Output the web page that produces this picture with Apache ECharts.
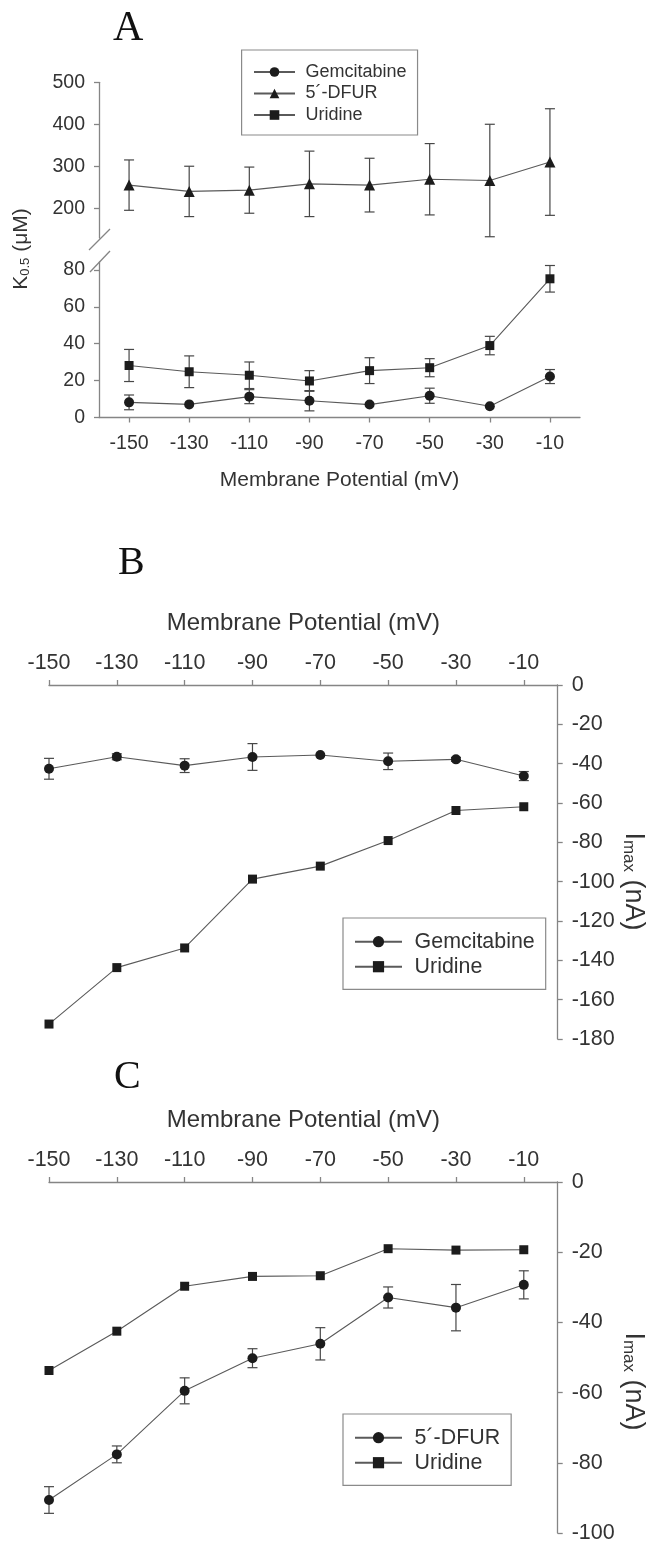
<!DOCTYPE html>
<html>
<head>
<meta charset="utf-8">
<script src="https://cdn.jsdelivr.net/npm/echarts@6/dist/echarts.min.js"></script>
<style>html,body{margin:0;padding:0;background:#fff;}#c{width:647px;height:1544px;}</style>
</head>
<body>
<div id="c"></div>
<script>
// ---------- data ----------
const potentials = [-150, -130, -110, -90, -70, -50, -30, -10];
const potentialTicks = [-150, -130, -110, -90, -70, -50, -30, -10];

// Panel A: K0.5 (uM)
const aGem     = [8.2, 7.1, 11.3, 9.1, 7.0, 11.8, 6.1, 22.2];
const aGemErr  = [4.0, 0, 3.8, 5.5, 0, 4.1, 0, 3.8];
const aDfur    = [255, 240, 243, 258, 255, 269, 266, 310];
const aDfurErr = [60, 60, 55, 78, 64, 85, 134, 127];
const aUri     = [28.2, 24.8, 22.9, 19.8, 25.4, 27.0, 39.0, 75.2];
const aUriErr  = [8.7, 8.6, 7.2, 5.6, 7.0, 4.9, 5.0, 7.2];
const aUpperTicks = [200, 300, 400, 500];
const aLowerTicks = [0, 20, 40, 60, 80];

// Panel B: Imax (nA)
const bGem    = [-42.6, -36.5, -41.0, -36.6, -35.6, -38.8, -37.8, -46.3];
const bGemErr = [5.3, 1.5, 3.5, 6.8, 0, 4.2, 1.0, 2.3];
const bUri    = [-172.4, -143.7, -133.7, -98.7, -92.1, -79.1, -63.8, -61.9];

// Panel C: Imax (nA)
const cDfur    = [-90.6, -77.6, -59.5, -50.2, -46.1, -32.9, -35.8, -29.3];
const cDfurErr = [3.8, 2.4, 3.7, 2.7, 4.6, 3.0, 6.6, 4.0];
const cUri     = [-53.7, -42.5, -29.7, -26.9, -26.7, -19.0, -19.4, -19.3];

// ---------- styling helpers ----------
const FONT = 'Liberation Sans, Arial, Helvetica, sans-serif';
const SERIF = 'Liberation Serif, Times New Roman, serif';
const AXIS_COLOR = '#858585';
const TEXT_COLOR = '#333';
const LINE_COLOR = '#5a5a5a';
const MARK_COLOR = '#1c1c1c';

function pairs(ys) { return potentials.map((p, i) => [p, ys[i]]); }
function triples(ys, es) { return potentials.map((p, i) => [p, ys[i], es[i]]); }

function lineSeries(name, xi, yi, ys, symbol, size) {
  return {
    type: 'line', name: name, xAxisIndex: xi, yAxisIndex: yi,
    data: pairs(ys), symbol: symbol, symbolSize: size,
    itemStyle: { color: MARK_COLOR },
    lineStyle: { color: LINE_COLOR, width: 1.1 },
    z: 3, animation: false
  };
}
function errSeries(xi, yi, ys, es) {
  return {
    type: 'custom', xAxisIndex: xi, yAxisIndex: yi, silent: true, z: 2,
    data: triples(ys, es), encode: { x: 0, y: 1 },
    renderItem: function (params, api) {
      const x = api.value(0), y = api.value(1), e = api.value(2);
      if (!e) return null;
      const t = api.coord([x, y + e]);
      const b = api.coord([x, y - e]);
      const hw = 5;
      const st = { stroke: '#474747', lineWidth: 1.2 };
      return { type: 'group', children: [
        { type: 'line', shape: { x1: t[0], y1: t[1], x2: b[0], y2: b[1] }, style: st },
        { type: 'line', shape: { x1: t[0] - hw, y1: t[1], x2: t[0] + hw, y2: t[1] }, style: st },
        { type: 'line', shape: { x1: b[0] - hw, y1: b[1], x2: b[0] + hw, y2: b[1] }, style: st }
      ]};
    }
  };
}
const axisLine = { show: true, onZero: false, lineStyle: { color: AXIS_COLOR, width: 1.3 } };

function xAxisTop(gi, labelSize, nameSize) {
  return {
    type: 'value', gridIndex: gi, position: 'top', min: -150, max: 0,
    axisLine: axisLine,
    axisTick: { show: true, customValues: potentialTicks, length: 5, lineStyle: { color: AXIS_COLOR, width: 1.3 } },
    axisLabel: { customValues: potentialTicks, fontSize: labelSize, fontFamily: FONT, color: TEXT_COLOR, margin: 11 },
    splitLine: { show: false },
    name: 'Membrane Potential (mV)', nameLocation: 'middle', nameGap: 50,
    nameTextStyle: { fontSize: nameSize, fontFamily: FONT, color: TEXT_COLOR }
  };
}
function yAxisRight(gi, min) {
  return {
    type: 'value', gridIndex: gi, position: 'right', min: min, max: 0, interval: 20,
    axisLine: axisLine,
    axisTick: { show: true, length: 5, lineStyle: { color: AXIS_COLOR, width: 1.3 } },
    axisLabel: { fontSize: 21.5, fontFamily: FONT, color: TEXT_COLOR, margin: 14 },
    splitLine: { show: false }
  };
}
function legendBox(left, top, names, labels, fs, iw, ih, gap, pad, textPad) {
  return {
    left: left, top: top, orient: 'vertical',
    data: names, itemWidth: iw, itemHeight: ih, itemGap: gap,
    padding: pad, borderColor: '#8a8a8a', borderWidth: 1.2, backgroundColor: '#fff',
    selectedMode: false,
    formatter: function (n) { return labels[names.indexOf(n)]; },
    textStyle: { fontSize: fs, fontFamily: FONT, color: TEXT_COLOR, padding: [0, 0, 0, textPad], lineHeight: fs }
  };
}
function imaxTitle(y) {
  return {
    type: 'text', x: 633.5, y: y, rotation: -Math.PI / 2,
    style: {
      text: '{a|I}{s|max}{a| (nA)}', align: 'center', verticalAlign: 'middle',
      rich: {
        a: { fontSize: 27, fontFamily: FONT, fill: TEXT_COLOR, lineHeight: 27, verticalAlign: 'top' },
        s: { fontSize: 17, fontFamily: FONT, fill: TEXT_COLOR, lineHeight: 17, padding: [13, 0, 0, 0], verticalAlign: 'bottom' }
      }
    }
  };
}

const option = {
  animation: false,
  backgroundColor: '#fff',
  grid: [
    { left: 99, top: 82.3, width: 481, height: 155.7 },
    { left: 99, top: 262, width: 481, height: 155.5 },
    { left: 49, top: 685, width: 508.7, height: 354 },
    { left: 49, top: 1182, width: 508.7, height: 354 }
  ],
  xAxis: [
    { type: 'value', gridIndex: 0, min: -160, max: 0, show: false, splitLine: { show: false } },
    {
      type: 'value', gridIndex: 1, min: -160, max: 0, position: 'bottom',
      axisLine: axisLine,
      axisTick: { show: true, customValues: potentialTicks, length: 5, lineStyle: { color: AXIS_COLOR, width: 1.3 } },
      axisLabel: { customValues: potentialTicks, fontSize: 19.5, fontFamily: FONT, color: TEXT_COLOR, margin: 16 },
      splitLine: { show: false },
      name: 'Membrane Potential (mV)', nameLocation: 'middle', nameGap: 52,
      nameTextStyle: { fontSize: 21, fontFamily: FONT, color: TEXT_COLOR }
    },
    xAxisTop(2, 21.5, 24),
    xAxisTop(3, 21.5, 24)
  ],
  yAxis: [
    {
      type: 'value', gridIndex: 0, min: 129, max: 500, position: 'left',
      axisLine: axisLine,
      axisTick: { show: true, customValues: aUpperTicks, length: 5, lineStyle: { color: AXIS_COLOR, width: 1.3 } },
      axisLabel: { customValues: aUpperTicks, fontSize: 19.5, fontFamily: FONT, color: TEXT_COLOR, margin: 14 },
      splitLine: { show: false }
    },
    {
      type: 'value', gridIndex: 1, min: 0, max: 84.3, position: 'left',
      axisLine: axisLine,
      axisTick: { show: true, customValues: aLowerTicks, length: 5, lineStyle: { color: AXIS_COLOR, width: 1.3 } },
      axisLabel: { customValues: aLowerTicks, fontSize: 19.5, fontFamily: FONT, color: TEXT_COLOR, margin: 14 },
      splitLine: { show: false }
    },
    yAxisRight(2, -180),
    yAxisRight(3, -100)
  ],
  legend: [
    legendBox(241.6, 50, ['A_gem', 'A_dfur', 'A_uri'], ['Gemcitabine', '5\u00b4-DFUR', 'Uridine'], 18, 41, 12, 3.5, [13, 11, 11, 11.4], 5.5),
    legendBox(343, 918, ['B_gem', 'B_uri'], ['Gemcitabine', 'Uridine'], 21.4, 47, 14, 3.6, [13, 11, 12, 11], 7.6),
    legendBox(343, 1414, ['C_dfur', 'C_uri'], ['5\u00b4-DFUR', 'Uridine'], 21.4, 47, 14, 3.6, [13, 11, 12, 11], 7.6)
  ],
  series: [
    errSeries(0, 0, aDfur, aDfurErr),
    lineSeries('A_dfur', 0, 0, aDfur, 'triangle', 11),
    errSeries(1, 1, aGem, aGemErr),
    lineSeries('A_gem', 1, 1, aGem, 'circle', 10),
    errSeries(1, 1, aUri, aUriErr),
    lineSeries('A_uri', 1, 1, aUri, 'rect', 9),
    errSeries(2, 2, bGem, bGemErr),
    lineSeries('B_gem', 2, 2, bGem, 'circle', 10),
    lineSeries('B_uri', 2, 2, bUri, 'rect', 9),
    errSeries(3, 3, cDfur, cDfurErr),
    lineSeries('C_dfur', 3, 3, cDfur, 'circle', 10),
    lineSeries('C_uri', 3, 3, cUri, 'rect', 9)
  ],
  graphic: [
    // panel letters
    { type: 'text', left: 113, top: 8, style: { text: 'A', font: '42px ' + SERIF, fill: '#111' } },
    { type: 'text', left: 118, top: 543, style: { text: 'B', font: '40px ' + SERIF, fill: '#111' } },
    { type: 'text', left: 114, top: 1057, style: { text: 'C', font: '40px ' + SERIF, fill: '#111' } },
    // y axis title panel A
    {
      type: 'text', x: 21, y: 249, rotation: Math.PI / 2,
      style: {
        text: '{a|K}{s|0.5}{a| (\u03bcM)}', align: 'center', verticalAlign: 'middle',
        rich: {
          a: { fontSize: 21, fontFamily: FONT, fill: TEXT_COLOR, lineHeight: 21, verticalAlign: 'top' },
          s: { fontSize: 13, fontFamily: FONT, fill: TEXT_COLOR, lineHeight: 13, padding: [11, 0, 0, 0], verticalAlign: 'bottom' }
        }
      }
    },
    // y axis titles panels B and C
    imaxTitle(881.5),
    imaxTitle(1381.5),
    // axis break marks (panel A)
    { type: 'line', shape: { x1: 89, y1: 250, x2: 110, y2: 229 }, style: { stroke: AXIS_COLOR, lineWidth: 1.3 } },
    { type: 'line', shape: { x1: 90, y1: 272, x2: 110, y2: 251 }, style: { stroke: AXIS_COLOR, lineWidth: 1.3 } }
  ]
};

const chart = echarts.init(document.getElementById('c'), null, { renderer: 'canvas' });
chart.setOption(option);
</script>
</body>
</html>
